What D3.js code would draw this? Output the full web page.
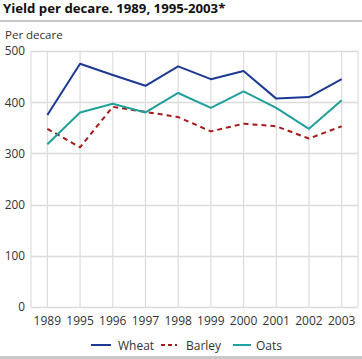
<!DOCTYPE html>
<html><head><meta charset="utf-8">
<script src="https://cdn.jsdelivr.net/npm/d3@7"></script>
<style>body{margin:0;background:#fff}svg{display:block;font-family:"Open Sans",sans-serif}</style>
</head><body><svg id="c" width="362" height="359"></svg>
<script>
const years = ["1989","1995","1996","1997","1998","1999","2000","2001","2002","2003"];
const wheat = [375,475,453,432,470,445,461,407,410,445];
const barley = [348,312,391,381,371,343,358,353,329,353];
const oats = [318,380,397,380,418,389,421,389,348,404];
const yTicks = [0,100,200,300,400,500];
const seriesNames = ["Wheat","Barley","Oats"];
const colors = ["#1d3a93","#a31b1b","#20a09c"];

const svg = d3.select("#c");
const L = 31, R = 358, T = 51, B = 307;
const x = d3.scaleBand().domain(years).range([L, R]);
const y = d3.scaleLinear().domain([0,500]).range([B, T]);

// title
svg.append("text").attr("x",3).attr("y",13).attr("font-size",13.2).attr("font-weight","bold").attr("fill","#111").text("Yield per decare. 1989, 1995-2003*");
svg.append("rect").attr("x",0).attr("y",20).attr("width",362).attr("height",2).attr("fill","#c8c8c8");
svg.append("rect").attr("x",0).attr("y",356).attr("width",362).attr("height",3).attr("fill","#c8c8c8");
svg.append("text").attr("x",5).attr("y",39).attr("font-size",11.5).attr("fill","#333").text("Per decare");

// grid
const g = svg.append("g");
g.selectAll(".hg").data(yTicks).join("line")
 .attr("x1",L).attr("x2",R).attr("y1",d=>Math.round(y(d))+0.5).attr("y2",d=>Math.round(y(d))+0.5)
 .attr("stroke","#dcdcdc").attr("stroke-width",1.5);
g.selectAll(".vg").data(years).join("line")
 .attr("x1",d=>x(d)+x.bandwidth()/2).attr("x2",d=>x(d)+x.bandwidth()/2).attr("y1",T).attr("y2",B)
 .attr("stroke","#dcdcdc").attr("stroke-width",1.2);
g.append("line").attr("x1",L).attr("x2",L).attr("y1",T).attr("y2",B).attr("stroke","#dcdcdc").attr("stroke-width",1.2);
g.append("line").attr("x1",R).attr("x2",R).attr("y1",T).attr("y2",B).attr("stroke","#dcdcdc").attr("stroke-width",1.2);

// y labels
svg.selectAll(".yl").data(yTicks).join("text")
 .attr("x",25).attr("y",d=>y(d)+4.3).attr("text-anchor","end").attr("font-size",11.8).attr("fill","#333").text(d=>d);
// x labels
svg.selectAll(".xl").data(years).join("text")
 .attr("x",d=>x(d)+x.bandwidth()/2).attr("y",325).attr("text-anchor","middle").attr("font-size",12).attr("fill","#333").text(d=>d);

const line = d3.line().x((d,i)=>x(years[i])+x.bandwidth()/2).y(d=>y(d));
const data = [wheat, barley, oats];
data.forEach((s,i)=>{
  svg.append("path").attr("d",line(s)).attr("fill","none").attr("stroke",colors[i])
   .attr("stroke-width",2).attr("stroke-dasharray", i===1?"5,4":null).attr("stroke-linejoin","round");
});

// legend
const leg = [{x1:91,x2:111,tx:118},{x1:161,x2:177,tx:186},{x1:233,x2:251,tx:256}];
leg.forEach((l,i)=>{
  svg.append("line").attr("x1",l.x1).attr("x2",l.x2).attr("y1",345).attr("y2",345).attr("stroke",colors[i])
   .attr("stroke-width",2).attr("stroke-dasharray", i===1?"4,3":null);
  svg.append("text").attr("x",l.tx).attr("y",349.5).attr("font-size",12).attr("fill","#333").text(seriesNames[i]);
});
</script></body></html>
